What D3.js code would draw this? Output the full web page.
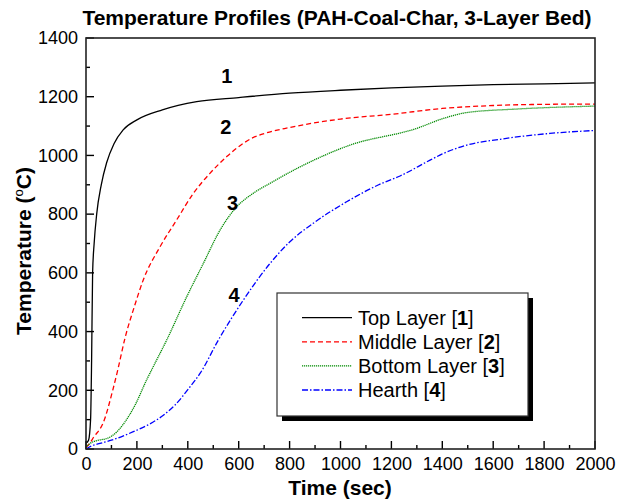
<!DOCTYPE html>
<html>
<head>
<meta charset="utf-8">
<script src="https://cdn.jsdelivr.net/npm/d3@7"></script>
<style>
  body { margin: 0; background: #fff; }
  svg { font-family: "Liberation Sans", Arial, sans-serif; }
</style>
</head>
<body>
<div id="chart"></div>
<script>
// Time (sec) / temperature (°C) readings per layer
const topTime = [0, 10, 18, 22, 26, 32, 42, 60, 81, 110, 146, 200, 300, 435, 600, 800, 1000, 1200, 1400, 1600, 1800, 2000];
const topTemp = [20, 30, 100, 300, 600, 700, 800, 900, 975, 1040, 1087, 1121, 1155, 1183, 1197, 1212, 1222, 1230, 1236, 1241, 1244, 1247];

const midTime = [0, 15, 30, 68, 105, 125, 153, 190, 225, 291, 356, 422, 487, 553, 618, 650, 710, 800, 1000, 1200, 1400, 1600, 1800, 2000];
const midTemp = [5, 20, 40, 90, 200, 270, 377, 485, 576, 689, 780, 871, 939, 996, 1041, 1058, 1077, 1095, 1124, 1140, 1160, 1170, 1174, 1175];

const botTime = [0, 16, 101, 193, 238, 264, 317, 396, 461, 527, 592, 657, 723, 841, 1037, 1299, 1404, 1496, 1692, 2000];
const botTemp = [5, 19, 44, 150, 235, 280, 371, 519, 632, 746, 825, 871, 905, 961, 1035, 1092, 1126, 1146, 1158, 1168];

const hthTime = [0, 20, 55, 100, 186, 250, 304, 350, 409, 450, 520, 618, 723, 800, 893, 1024, 1150, 1234, 1352, 1400, 1496, 1627, 1823, 2000];
const hthTemp = [0, 10, 19, 30, 59, 85, 115, 150, 212, 260, 371, 507, 632, 705, 769, 842, 900, 930, 984, 1005, 1035, 1055, 1075, 1085];

const seriesNames = ["Top Layer", "Middle Layer", "Bottom Layer", "Hearth"];
const seriesNums = ["1", "2", "3", "4"];
// where the curve numbers sit (time, temperature at baseline)
const numTime = [553, 549, 576, 582];
const numTemp = [1247, 1073, 814, 501];
const xTicks = [0, 200, 400, 600, 800, 1000, 1200, 1400, 1600, 1800, 2000];
const yTicks = [0, 200, 400, 600, 800, 1000, 1200, 1400];

const colors = ["#000000", "#ff0000", "#008a00", "#0000ff"];
const dashes = [null, "5,3", "1.2,0.8", "6,2,1.5,2"];
const times = [topTime, midTime, botTime, hthTime];
const temps = [topTemp, midTemp, botTemp, hthTemp];

const series = seriesNames.map((name, i) => ({
  name, num: seriesNums[i], t: times[i], v: temps[i],
  color: colors[i], dash: dashes[i], lab: [numTime[i], numTemp[i]],
}));

const W = 622, H = 502;
const x = d3.scaleLinear().domain([0, 2000]).range([86, 595]);
const y = d3.scaleLinear().domain([0, 1400]).range([449, 38]);

const svg = d3.select("#chart").append("svg").attr("width", W).attr("height", H);

// title
svg.append("text")
  .attr("x", 337).attr("y", 25)
  .attr("text-anchor", "middle")
  .attr("font-size", 21).attr("font-weight", "bold")
  .text("Temperature Profiles (PAH-Coal-Char, 3-Layer Bed)");

// tick marks, pointing inward; long ones every 200
const ticks = svg.append("g");
ticks.selectAll("line.xt")
  .data(d3.range(0, 2001, 100))
  .join("line")
  .attr("class", "xt")
  .attr("x1", d => x(d)).attr("x2", d => x(d))
  .attr("y1", y(0)).attr("y2", d => y(0) - (d % 200 === 0 ? 8 : 4))
  .attr("stroke", "#000").attr("stroke-width", 1.4);
ticks.selectAll("line.yt")
  .data(d3.range(0, 1401, 100))
  .join("line")
  .attr("class", "yt")
  .attr("y1", d => y(d)).attr("y2", d => y(d))
  .attr("x1", x(0)).attr("x2", d => x(0) + (d % 200 === 0 ? 8 : 4))
  .attr("stroke", "#000").attr("stroke-width", 1.4);

// tick labels
svg.append("g").attr("transform", `translate(0,${y(0)})`)
  .call(d3.axisBottom(x).tickValues(xTicks).tickSize(0).tickPadding(8).tickFormat(d3.format("d")))
  .call(g => g.select(".domain").remove())
  .call(g => g.selectAll("text").attr("font-size", 18).attr("fill", "#000")
    .attr("font-family", "Liberation Sans, Arial, sans-serif"));

svg.append("g").attr("transform", `translate(${x(0)},0)`)
  .call(d3.axisLeft(y).tickValues(yTicks).tickSize(0).tickPadding(8).tickFormat(d3.format("d")))
  .call(g => g.select(".domain").remove())
  .call(g => g.selectAll("text").attr("font-size", 18).attr("fill", "#000")
    .attr("font-family", "Liberation Sans, Arial, sans-serif"));

// axis titles
svg.append("text")
  .attr("x", 340).attr("y", 495)
  .attr("text-anchor", "middle")
  .attr("font-size", 21).attr("font-weight", "bold")
  .text("Time (sec)");

const yt = svg.append("text")
  .attr("transform", "translate(31,251) rotate(-90)")
  .attr("text-anchor", "middle")
  .attr("font-size", 21).attr("font-weight", "bold");
yt.append("tspan").text("Temperature (");
yt.append("tspan").attr("font-size", 13).attr("font-weight", "normal").attr("dy", -8).text("o");
yt.append("tspan").attr("dy", 8).text("C)");

// curves
const line = d3.line()
  .x(d => x(d[0]))
  .y(d => y(d[1]))
  .curve(d3.curveMonotoneX);

svg.append("g").selectAll("path")
  .data(series)
  .join("path")
  .attr("fill", "none")
  .attr("stroke", d => d.color)
  .attr("stroke-width", 1.3)
  .attr("stroke-dasharray", d => d.dash)
  .attr("d", d => line(d.t.map((t, i) => [t, d.v[i]])));

// curve numbers
svg.append("g").selectAll("text")
  .data(series)
  .join("text")
  .attr("x", d => x(d.lab[0]))
  .attr("y", d => y(d.lab[1]))
  .attr("text-anchor", "middle")
  .attr("font-size", 20).attr("font-weight", "bold")
  .text(d => d.num);

// frame
svg.append("rect")
  .attr("x", x(0)).attr("y", y(1400))
  .attr("width", x(2000) - x(0)).attr("height", y(0) - y(1400))
  .attr("fill", "none").attr("stroke", "#222").attr("stroke-width", 1.6);

// legend
const lg = svg.append("g").attr("transform", "translate(277,293)");
lg.append("rect").attr("x", 5).attr("y", 5).attr("width", 251).attr("height", 123).attr("fill", "#000");
lg.append("rect").attr("width", 251).attr("height", 123)
  .attr("fill", "#fff").attr("stroke", "#333").attr("stroke-width", 1.2);

const items = lg.selectAll("g.item")
  .data(series)
  .join("g")
  .attr("class", "item")
  .attr("transform", (d, i) => `translate(0,${24.7 + i * 24.1})`);

items.append("line")
  .attr("x1", 25).attr("x2", 75)
  .attr("stroke", d => d.color)
  .attr("stroke-width", 1.3)
  .attr("stroke-dasharray", d => d.dash);

const lt = items.append("text")
  .attr("x", 81).attr("y", 7)
  .attr("font-size", 20);
lt.append("tspan").text(d => d.name + " [");
lt.append("tspan").attr("font-weight", "bold").text(d => d.num);
lt.append("tspan").text("]");
</script>
</body>
</html>
